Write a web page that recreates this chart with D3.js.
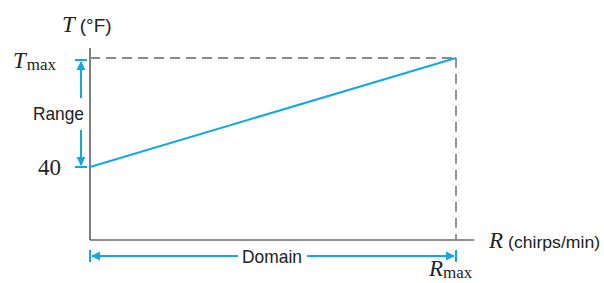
<!DOCTYPE html>
<html>
<head>
<meta charset="utf-8">
<script src="https://cdn.jsdelivr.net/npm/d3@7"></script>
<style>
  body { margin: 0; background: #fff; }
  svg { display: block; }
  .serif { font-family: "Liberation Serif", "DejaVu Serif", serif; fill: #222; }
  .sans { font-family: "Liberation Sans", Arial, sans-serif; fill: #222; }
</style>
</head>
<body>
<div id="chart"></div>
<script>
// line endpoints: temperature grows linearly with chirp rate
const rValues = [0, 1];           // 0 .. Rmax (normalised)
const tValues = [40, 100];        // 40 .. Tmax (nominal)
const rAxisExtent = [0, 1.05];    // x axis runs a bit past Rmax
const tAxisExtent = [-0.2, 105.5]; // y axis bottom / top
const rangeLabel = "Range";
const domainLabel = "Domain";

const svgWidth = 604;
const svgHeight = 283;
const blue = "#12a8e3";
const grey = "#8a8a8a";

const svg = d3.select('#chart')
    .append('svg')
    .attr('width', svgWidth)
    .attr('height', svgHeight);

const xScale = d3.scaleLinear()
    .domain([0, rValues[1]])
    .range([90, 456]);

const yScale = d3.scaleLinear()
    .domain([tValues[0], tValues[1]])
    .range([167, 58]);

const x0 = xScale(rAxisExtent[0]);
const y0 = yScale(tAxisExtent[0]);

// axes (plain lines, no ticks)
svg.append('line')
    .attr('x1', x0).attr('x2', xScale(rAxisExtent[1]))
    .attr('y1', y0).attr('y2', y0)
    .attr('stroke', '#6a6a6a').attr('stroke-width', 1.5);
svg.append('line')
    .attr('x1', x0).attr('x2', x0)
    .attr('y1', y0).attr('y2', yScale(tAxisExtent[1]))
    .attr('stroke', '#555').attr('stroke-width', 1.5);

// dashed guides to (Rmax, Tmax)
svg.append('line')
    .attr('x1', x0).attr('x2', xScale(rValues[1]))
    .attr('y1', yScale(tValues[1])).attr('y2', yScale(tValues[1]))
    .attr('stroke', grey).attr('stroke-width', 1.8)
    .attr('stroke-dasharray', '10,6');
svg.append('line')
    .attr('x1', xScale(rValues[1])).attr('x2', xScale(rValues[1]))
    .attr('y1', yScale(tValues[1])).attr('y2', y0)
    .attr('stroke', grey).attr('stroke-width', 1.8)
    .attr('stroke-dasharray', '10,6');

// the line
const data = rValues.map((r, i) => ({ r: r, t: tValues[i] }));
const line = d3.line()
    .x(d => xScale(d.r))
    .y(d => yScale(d.t));
svg.append('path')
    .datum(data)
    .attr('d', line)
    .attr('fill', 'none')
    .attr('stroke', blue)
    .attr('stroke-width', 2);

// arrow helpers
const arrowHead = (x, y, dir) => {
    // dir: 'up' | 'down' | 'left' | 'right'
    const L = 9, W = 4.5;
    let pts;
    if (dir === 'up') pts = [[x, y], [x - W, y + L], [x + W, y + L]];
    if (dir === 'down') pts = [[x, y], [x - W, y - L], [x + W, y - L]];
    if (dir === 'left') pts = [[x, y], [x + L, y - W], [x + L, y + W]];
    if (dir === 'right') pts = [[x, y], [x - L, y - W], [x - L, y + W]];
    svg.append('polygon')
        .attr('points', pts.map(p => p.join(',')).join(' '))
        .attr('fill', blue);
};
const seg = (x1, y1, x2, y2) => svg.append('line')
    .attr('x1', x1).attr('y1', y1).attr('x2', x2).attr('y2', y2)
    .attr('stroke', blue).attr('stroke-width', 2);

// RANGE bracket
const ax = 81;
const yTop = yScale(tValues[1]) + 2;
const yBot = yScale(tValues[0]);
seg(75, yTop, 87, yTop);
seg(75, yBot, 87, yBot);
seg(ax, yTop + 2, ax, 98);
seg(ax, 130, ax, yBot - 2);
arrowHead(ax, yTop + 1, 'up');
arrowHead(ax, yBot - 1, 'down');
svg.append('text').attr('class', 'sans')
    .attr('x', 84).attr('y', 120)
    .attr('text-anchor', 'end')
    .attr('font-size', 19).attr('textLength', 51).attr('lengthAdjust', 'spacingAndGlyphs')
    .text(rangeLabel);

// DOMAIN bracket
const ay = 256;
const xl = xScale(rValues[0]);
const xr = xScale(rValues[1]);
seg(xl, 250, xl, 262);
seg(xr, 250, xr, 262);
seg(xl + 2, ay, 238, ay);
seg(307, ay, xr - 2, ay);
arrowHead(xl + 1, ay, 'left');
arrowHead(xr - 1, ay, 'right');
svg.append('text').attr('class', 'sans')
    .attr('x', 242).attr('y', ay + 7)
    .attr('font-size', 19).attr('textLength', 60).attr('lengthAdjust', 'spacingAndGlyphs')
    .text(domainLabel);

// axis labels
const tTitle = svg.append('text').attr('x', 62).attr('y', 32).attr('font-size', 23);
tTitle.append('tspan').attr('class', 'serif').attr('font-style', 'italic').text('T');
tTitle.append('tspan').attr('class', 'sans').attr('font-size', 19).attr('dx', 5).text('(°F)');

const rTitle = svg.append('text').attr('x', 489).attr('y', 248).attr('font-size', 23);
rTitle.append('tspan').attr('class', 'serif').attr('font-style', 'italic').text('R');
rTitle.append('tspan').attr('class', 'sans').attr('font-size', 17).attr('dx', 5)
    .attr('textLength', 92).attr('lengthAdjust', 'spacingAndGlyphs').text('(chirps/min)');

const tMax = svg.append('text').attr('x', 13).attr('y', 68).attr('font-size', 23);
tMax.append('tspan').attr('class', 'serif').attr('font-style', 'italic').text('T');
tMax.append('tspan').attr('class', 'serif').attr('font-size', 17).attr('dy', 2).attr('dx', 1).text('max');

svg.append('text').attr('class', 'serif')
    .attr('x', 61).attr('y', yScale(tValues[0]) + 8)
    .attr('text-anchor', 'end').attr('font-size', 23)
    .text(String(tValues[0]));

const rMax = svg.append('text').attr('x', 429).attr('y', 276).attr('font-size', 23);
rMax.append('tspan').attr('class', 'serif').attr('font-style', 'italic').text('R');
rMax.append('tspan').attr('class', 'serif').attr('font-size', 17).attr('dy', 2).text('max');
</script>
</body>
</html>
